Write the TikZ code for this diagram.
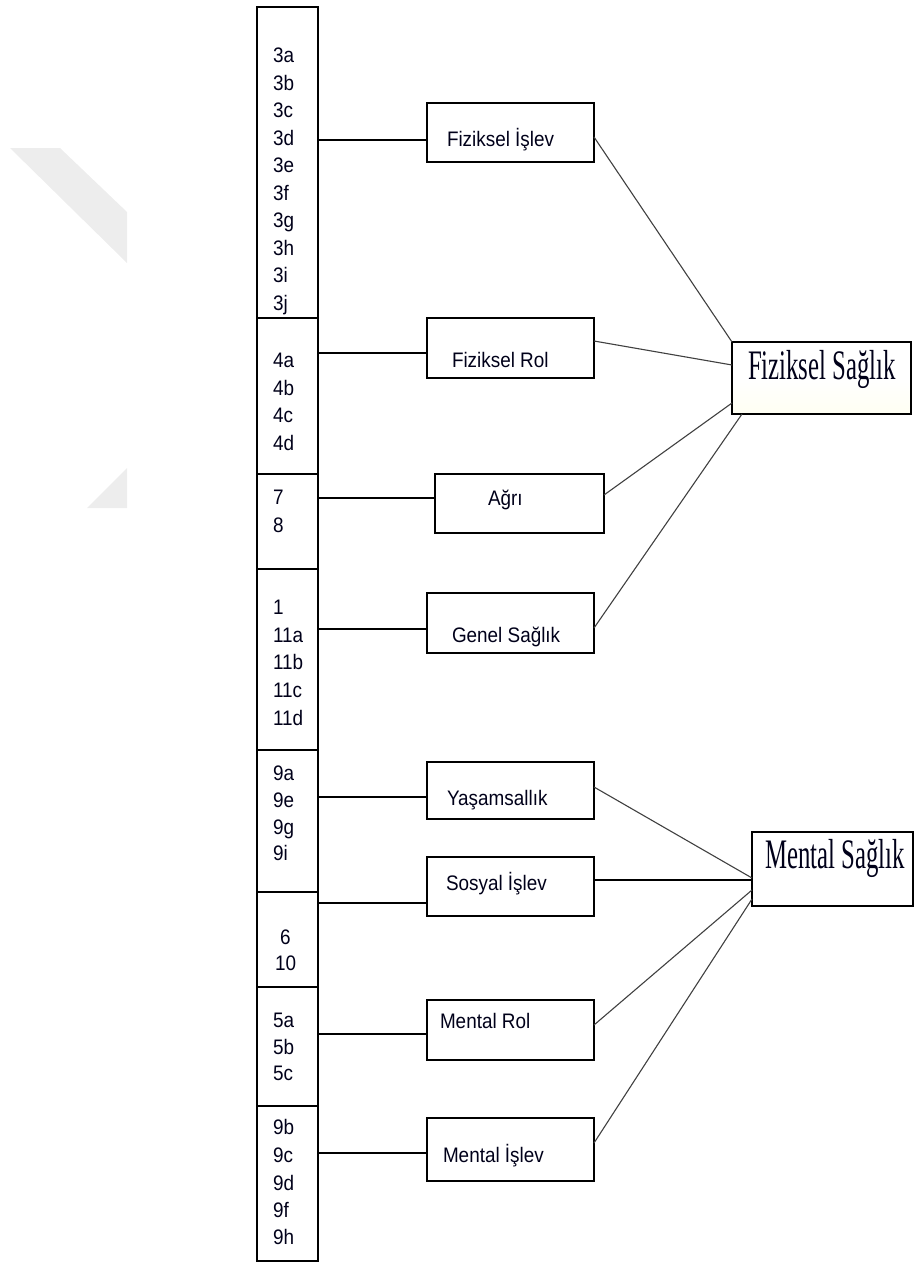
\documentclass[tikz,border=0pt]{standalone}
\usepackage{fontspec}
\usepackage{graphicx}
\setmainfont{Liberation Sans}
\newfontfamily\serifbig{Liberation Serif}
\newcommand{\ntxt}[1]{\scalebox{0.9}[1]{#1}}
\newcommand{\btxt}[1]{\scalebox{0.59}[1]{\serifbig #1}}
\begin{document}
\begin{tikzpicture}[x=1pt,y=-1pt,
  every node/.style={inner sep=0pt, outer sep=0pt},
  frame/.style={draw=black, line width=1.8pt, rectangle, anchor=center},
  lbl/.style={anchor=base west, font=\fontsize{21}{25}\selectfont, text=black!90!blue},
  big/.style={anchor=base west, font=\fontsize{42}{42}\selectfont, text=black!90!blue},
  conn/.style={line width=1.8pt, draw=black},
  link/.style={line width=1.1pt, draw=black!75},
]
\useasboundingbox (0,0) rectangle (915,1266);
% watermark
\fill[black!7] (10,148) -- (60,148) -- (127,212) -- (127,263) -- cycle;
\fill[black!7] (127,468) -- (127,508) -- (87,508) -- cycle;

% left column boxes
\node[frame, minimum width=61pt, minimum height=311pt] (B1) at (287.5,162.5) {};
\node[frame, minimum width=61pt, minimum height=156pt] (B2) at (287.5,396) {};
\node[frame, minimum width=61pt, minimum height=95pt]  (B3) at (287.5,521.5) {};
\node[frame, minimum width=61pt, minimum height=181pt] (B4) at (287.5,659.5) {};
\node[frame, minimum width=61pt, minimum height=142pt] (B5) at (287.5,821) {};
\node[frame, minimum width=61pt, minimum height=95pt]  (B6) at (287.5,939.5) {};
\node[frame, minimum width=61pt, minimum height=119pt] (B7) at (287.5,1046.5) {};
\node[frame, minimum width=61pt, minimum height=155pt] (B8) at (287.5,1183.5) {};

% numbers
\foreach \t/\yy [count=\i] in {3a/62.5,3b/90,3c/117.5,3d/145,3e/172.5,3f/200,3g/227.5,3h/255,3i/282.5,3j/310}
  \node[lbl] (n1-\i) at (273,\yy) {\ntxt{\t}};
\foreach \t/\yy [count=\i] in {4a/367.5,4b/395,4c/422.5,4d/450}
  \node[lbl] (n2-\i) at (273,\yy) {\ntxt{\t}};
\foreach \t/\yy [count=\i] in {7/504.5,8/532.5}
  \node[lbl] (n3-\i) at (273,\yy) {\ntxt{\t}};
\foreach \t/\yy [count=\i] in {1/614.5,11a/642,11b/669.5,11c/697.5,11d/725.5}
  \node[lbl] (n4-\i) at (273,\yy) {\ntxt{\t}};
\foreach \t/\yy [count=\i] in {9a/780.5,9e/807.5,9g/834.5,9i/860.5}
  \node[lbl] (n5-\i) at (273,\yy) {\ntxt{\t}};
\node[lbl] (n6-1) at (280,944.5) {\ntxt{6}};
\node[lbl] (n6-2) at (275,970.5) {\ntxt{10}};
\foreach \t/\yy [count=\i] in {5a/1027.5,5b/1054.5,5c/1080.5}
  \node[lbl] (n7-\i) at (273,\yy) {\ntxt{\t}};
\foreach \t/\yy [count=\i] in {9b/1134.5,9c/1162.5,9d/1190.5,9f/1217.5,9h/1244.5}
  \node[lbl] (n8-\i) at (273,\yy) {\ntxt{\t}};

% middle boxes
\node[frame, minimum width=167pt, minimum height=59pt] (FI) at (510.5,132.5) {};
\node[frame, minimum width=167pt, minimum height=60pt] (FR) at (510.5,348) {};
\node[frame, minimum width=169pt, minimum height=59pt] (AG) at (519.5,503.5) {};
\node[frame, minimum width=167pt, minimum height=60pt] (GS) at (510.5,623) {};
\node[frame, minimum width=167pt, minimum height=57pt] (YA) at (510.5,790.5) {};
\node[frame, minimum width=167pt, minimum height=59pt] (SO) at (510.5,886.5) {};
\node[frame, minimum width=167pt, minimum height=60pt] (MR) at (510.5,1030) {};
\node[frame, minimum width=167pt, minimum height=63pt] (MI) at (510.5,1149.5) {};

\node[lbl] (FI-t) at (447,146) {\ntxt{Fiziksel İşlev}};
\node[lbl] (FR-t) at (452,367) {\ntxt{Fiziksel Rol}};
\node[lbl] (AG-t) at (488,505) {\ntxt{Ağrı}};
\node[lbl] (GS-t) at (452,642) {\ntxt{Genel Sağlık}};
\node[lbl] (YA-t) at (447,805) {\ntxt{Yaşamsallık}};
\node[lbl] (SO-t) at (446,890) {\ntxt{Sosyal İşlev}};
\node[lbl] (MR-t) at (440,1028) {\ntxt{Mental Rol}};
\node[lbl] (MI-t) at (443,1162) {\ntxt{Mental İşlev}};

% right boxes
\node[frame, minimum width=179pt, minimum height=72pt, top color=white, bottom color=yellow!5, middle color=white] (FS) at (821.5,378) {};
\node[frame, minimum width=161pt, minimum height=74pt] (MS) at (832.5,869) {};
\node[big] (FS-t) at (748,379) {\btxt{Fiziksel Sağlık}};
\node[big] (MS-t) at (765,868) {\btxt{Mental Sağlık}};

% connectors from column
\draw[conn] (B1.east |- 0,140)  -- (FI.west |- 0,140);
\draw[conn] (B2.east |- 0,353)  -- (FR.west |- 0,353);
\draw[conn] (B3.east |- 0,498)  -- (AG.west |- 0,498);
\draw[conn] (B4.east |- 0,629)  -- (GS.west |- 0,629);
\draw[conn] (B5.east |- 0,797)  -- (YA.west |- 0,797);
\draw[conn] (B6.east |- 0,903)  -- (SO.west |- 0,903);
\draw[conn] (B7.east |- 0,1034) -- (MR.west |- 0,1034);
\draw[conn] (B8.east |- 0,1153) -- (MI.west |- 0,1153);

% links to Fiziksel Sağlık
\draw[link] (FI.east |- 0,137) -- (FS.north west);
\draw[link] (FR.east |- 0,341) -- (FS.west |- 0,365);
\draw[link] (AG.east |- 0,495) -- (FS.west |- 0,403);
\draw[link] (GS.east |- 0,628) -- ([xshift=10pt]FS.south west);

% links to Mental Sağlık
\draw[link] (YA.east |- 0,787)  -- (MS.west |- 0,878);
\draw[conn] (SO.east |- 0,880)  -- (MS.west |- 0,880);
\draw[link] (MR.east |- 0,1025) -- (MS.west |- 0,890);
\draw[link] (MI.east |- 0,1143) -- (MS.west |- 0,899);
\end{tikzpicture}
\end{document}
